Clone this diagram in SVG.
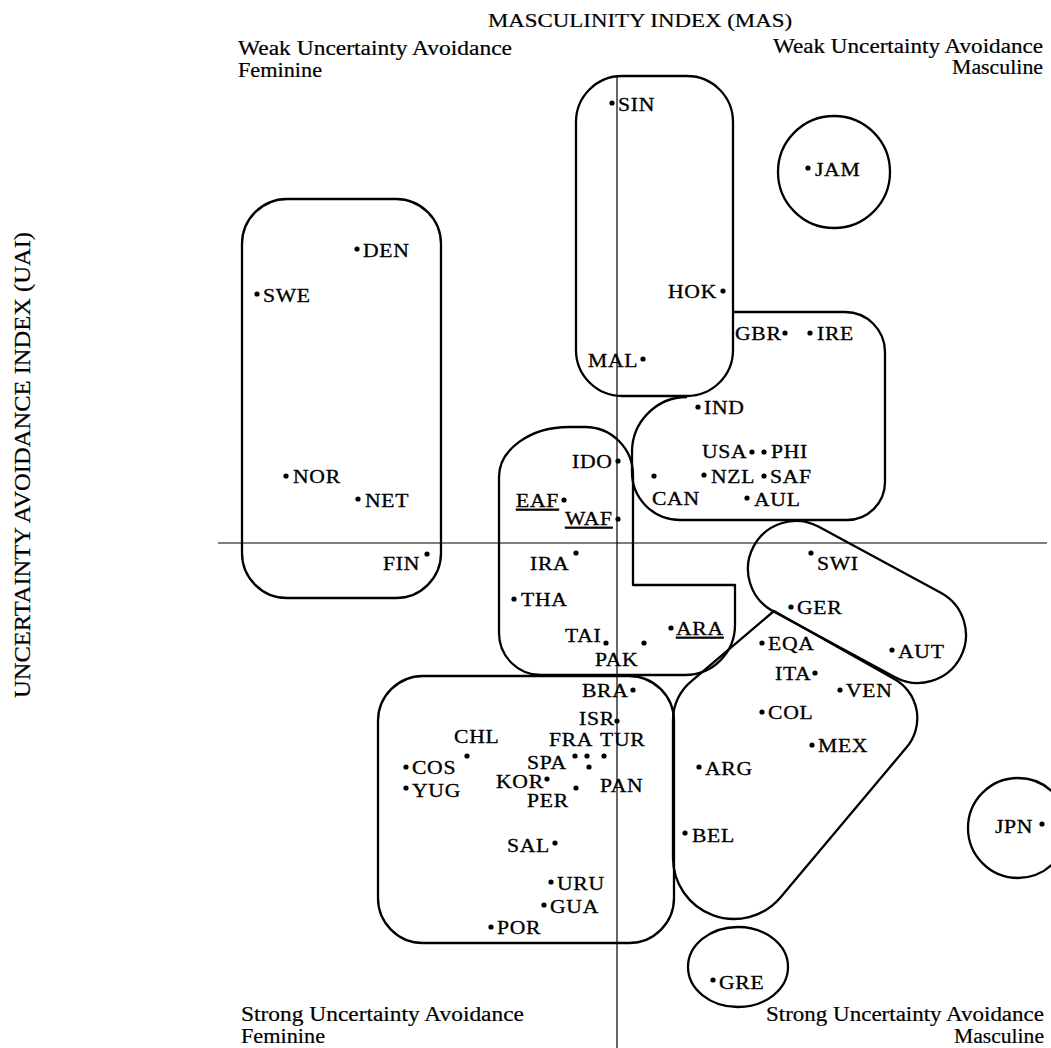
<svg xmlns="http://www.w3.org/2000/svg" width="1051" height="1048" viewBox="0 0 1051 1048">
<style>
.box{fill:none;stroke:#000;stroke-width:2.3;stroke-linejoin:round}
.axis{stroke:#000;stroke-width:1.2;fill:none}
.dot{fill:#000}
.lbl{font-family:"Liberation Serif","Times New Roman",serif;font-size:18.5px;letter-spacing:0.6px;fill:#000;stroke:#000;stroke-width:0.3;transform-box:fill-box;transform-origin:0 0;transform:scaleX(1.17)}
.cap{font-family:"Liberation Serif","Times New Roman",serif;font-size:20px;fill:#000;stroke:#000;stroke-width:0.2}
.ul{text-decoration:underline}
</style>
<rect x="0" y="0" width="1051" height="1048" fill="#fff"/>
<g id="titles">
<text class="cap" x="488" y="27" textLength="304" lengthAdjust="spacingAndGlyphs" style="font-size:19.5px">MASCULINITY INDEX (MAS)</text>
<text class="cap" transform="translate(29.5,698) rotate(-90)" textLength="466" lengthAdjust="spacingAndGlyphs" style="font-size:23px">UNCERTAINTY AVOIDANCE INDEX (UAI)</text>
<text class="cap" x="238" y="55" textLength="274" lengthAdjust="spacingAndGlyphs">Weak Uncertainty Avoidance</text>
<text class="cap" x="238" y="77" textLength="84" lengthAdjust="spacingAndGlyphs">Feminine</text>
<text class="cap" x="773" y="53" textLength="270" lengthAdjust="spacingAndGlyphs">Weak Uncertainty Avoidance</text>
<text class="cap" x="952" y="74" textLength="91" lengthAdjust="spacingAndGlyphs">Masculine</text>
<text class="cap" x="241" y="1021" textLength="283" lengthAdjust="spacingAndGlyphs">Strong Uncertainty Avoidance</text>
<text class="cap" x="241" y="1043" textLength="84" lengthAdjust="spacingAndGlyphs">Feminine</text>
<text class="cap" x="766" y="1021" textLength="278" lengthAdjust="spacingAndGlyphs">Strong Uncertainty Avoidance</text>
<text class="cap" x="954" y="1043" textLength="90" lengthAdjust="spacingAndGlyphs">Masculine</text>
</g>
<g id="connectors">
<line class="axis" x1="218" y1="543" x2="1047" y2="543"/>
<line class="axis" x1="617" y1="76" x2="617" y2="1048"/>
</g>
<g id="cluster-nordic">
<rect class="box" x="242" y="199" width="199" height="399" rx="45"/>
</g>
<g id="cluster-sin">
<rect class="box" x="576" y="76" width="157" height="320" rx="46"/>
</g>
<g id="cluster-jam">
<circle class="box" cx="834" cy="172" r="56"/>
</g>
<g id="cluster-anglo">
<path class="box" d="M733 312 H845 A40 40 0 0 1 885 352 V482 A38 38 0 0 1 847 520 H680 A48 48 0 0 1 632 472 V452 A55 55 0 0 1 687 397"/>
</g>
<g id="cluster-mid">
<path class="box" d="M499 477 A70 50 0 0 1 569 427 H585 A48 48 0 0 1 633 475 V585 H735 V625 A50 50 0 0 1 685 675 H541 A42 42 0 0 1 499 633 Z"/>
</g>
<g id="cluster-latin1">
<rect class="box" x="378" y="676" width="296" height="267" rx="45"/>
</g>
<g id="cluster-germanic">
<rect class="box" x="739.6" y="554" width="234.7" height="96" rx="48" transform="rotate(28.4 857 602)"/>
</g>
<g id="cluster-latin2">
<path class="box" d="M774 611 L893.4 678.4 A45 45 0 0 1 906 748 L780 898 A61 61 0 0 1 673 858 V720 A50 50 0 0 1 691.8 680.9 Z"/>
</g>
<g id="cluster-jpn">
<circle class="box" cx="1018" cy="828" r="50"/>
</g>
<g id="cluster-gre">
<ellipse class="box" cx="738" cy="967" rx="50" ry="40"/>
</g>
<g id="countries">
<g id="DEN"><circle class="dot" cx="357" cy="249" r="2.6"/><text class="lbl" x="363" y="257">DEN</text></g>
<g id="SWE"><circle class="dot" cx="257" cy="294" r="2.6"/><text class="lbl" x="263" y="302">SWE</text></g>
<g id="NOR"><circle class="dot" cx="286" cy="476" r="2.6"/><text class="lbl" x="293" y="483">NOR</text></g>
<g id="NET"><circle class="dot" cx="358" cy="499" r="2.6"/><text class="lbl" x="365" y="507">NET</text></g>
<g id="FIN"><circle class="dot" cx="427" cy="554" r="2.6"/><text class="lbl" x="383" y="570">FIN</text></g>
<g id="SIN"><circle class="dot" cx="612" cy="103" r="2.6"/><text class="lbl" x="618" y="111">SIN</text></g>
<g id="JAM"><circle class="dot" cx="808" cy="168" r="2.6"/><text class="lbl" x="815" y="176">JAM</text></g>
<g id="HOK"><circle class="dot" cx="723" cy="291" r="2.6"/><text class="lbl" x="668" y="298">HOK</text></g>
<g id="GBR"><circle class="dot" cx="785" cy="333" r="2.6"/><text class="lbl" x="735" y="340">GBR</text></g>
<g id="IRE"><circle class="dot" cx="810" cy="333" r="2.6"/><text class="lbl" x="817" y="340">IRE</text></g>
<g id="MAL"><circle class="dot" cx="643" cy="359" r="2.6"/><text class="lbl" x="588" y="367">MAL</text></g>
<g id="IND"><circle class="dot" cx="698" cy="407" r="2.6"/><text class="lbl" x="704" y="414">IND</text></g>
<g id="USA"><circle class="dot" cx="752" cy="452" r="2.6"/><text class="lbl" x="702" y="458">USA</text></g>
<g id="PHI"><circle class="dot" cx="764" cy="452" r="2.6"/><text class="lbl" x="771" y="458">PHI</text></g>
<g id="CAN"><circle class="dot" cx="654" cy="476" r="2.6"/><text class="lbl" x="652" y="505">CAN</text></g>
<g id="NZL"><circle class="dot" cx="704" cy="475" r="2.6"/><text class="lbl" x="711" y="483">NZL</text></g>
<g id="SAF"><circle class="dot" cx="764" cy="476" r="2.6"/><text class="lbl" x="770" y="483">SAF</text></g>
<g id="AUL"><circle class="dot" cx="747" cy="498" r="2.6"/><text class="lbl" x="754" y="506">AUL</text></g>
<g id="IDO"><circle class="dot" cx="618" cy="461" r="2.6"/><text class="lbl" x="572" y="468">IDO</text></g>
<g id="EAF"><circle class="dot" cx="564" cy="500" r="2.6"/><text class="lbl ul" x="516" y="507">EAF</text></g>
<g id="WAF"><circle class="dot" cx="618" cy="519" r="2.6"/><text class="lbl ul" x="565" y="525">WAF</text></g>
<g id="IRA"><circle class="dot" cx="576" cy="553" r="2.6"/><text class="lbl" x="530" y="570">IRA</text></g>
<g id="THA"><circle class="dot" cx="514" cy="599" r="2.6"/><text class="lbl" x="521" y="606">THA</text></g>
<g id="TAI"><circle class="dot" cx="606" cy="643" r="2.6"/><text class="lbl" x="565" y="642">TAI</text></g>
<g id="PAK"><circle class="dot" cx="644" cy="643" r="2.6"/><text class="lbl" x="595" y="666">PAK</text></g>
<g id="ARA"><circle class="dot" cx="671" cy="628" r="2.6"/><text class="lbl ul" x="676" y="635">ARA</text></g>
<g id="SWI"><circle class="dot" cx="811" cy="553" r="2.6"/><text class="lbl" x="817" y="570">SWI</text></g>
<g id="GER"><circle class="dot" cx="791" cy="607" r="2.6"/><text class="lbl" x="797" y="614">GER</text></g>
<g id="EQA"><circle class="dot" cx="762" cy="643" r="2.6"/><text class="lbl" x="768" y="650">EQA</text></g>
<g id="AUT"><circle class="dot" cx="892" cy="650" r="2.6"/><text class="lbl" x="898" y="658">AUT</text></g>
<g id="ITA"><circle class="dot" cx="815" cy="673" r="2.6"/><text class="lbl" x="775" y="680">ITA</text></g>
<g id="VEN"><circle class="dot" cx="840" cy="690" r="2.6"/><text class="lbl" x="846" y="697">VEN</text></g>
<g id="COL"><circle class="dot" cx="762" cy="712" r="2.6"/><text class="lbl" x="768" y="719">COL</text></g>
<g id="MEX"><circle class="dot" cx="812" cy="745" r="2.6"/><text class="lbl" x="818" y="752">MEX</text></g>
<g id="ARG"><circle class="dot" cx="699" cy="767" r="2.6"/><text class="lbl" x="705" y="775">ARG</text></g>
<g id="BEL"><circle class="dot" cx="685" cy="833" r="2.6"/><text class="lbl" x="692" y="842">BEL</text></g>
<g id="JPN"><circle class="dot" cx="1042" cy="824" r="2.6"/><text class="lbl" x="995" y="833">JPN</text></g>
<g id="BRA"><circle class="dot" cx="633" cy="690" r="2.6"/><text class="lbl" x="582" y="697">BRA</text></g>
<g id="ISR"><circle class="dot" cx="617" cy="721" r="2.6"/><text class="lbl" x="579" y="725">ISR</text></g>
<g id="CHL"><circle class="dot" cx="467" cy="756" r="2.6"/><text class="lbl" x="454" y="743">CHL</text></g>
<g id="FRA"><circle class="dot" cx="587" cy="756" r="2.6"/><text class="lbl" x="549" y="746">FRA</text></g>
<g id="TUR"><circle class="dot" cx="604" cy="756" r="2.6"/><text class="lbl" x="600" y="746">TUR</text></g>
<g id="SPA"><circle class="dot" cx="575" cy="756" r="2.6"/><text class="lbl" x="527" y="769">SPA</text></g>
<g id="PAN"><circle class="dot" cx="589" cy="767" r="2.6"/><text class="lbl" x="600" y="792">PAN</text></g>
<g id="COS"><circle class="dot" cx="406" cy="767" r="2.6"/><text class="lbl" x="412" y="774">COS</text></g>
<g id="YUG"><circle class="dot" cx="406" cy="788" r="2.6"/><text class="lbl" x="412" y="797">YUG</text></g>
<g id="KOR"><circle class="dot" cx="547" cy="779" r="2.6"/><text class="lbl" x="496" y="788">KOR</text></g>
<g id="PER"><circle class="dot" cx="576" cy="788" r="2.6"/><text class="lbl" x="527" y="807">PER</text></g>
<g id="SAL"><circle class="dot" cx="555" cy="843" r="2.6"/><text class="lbl" x="507" y="852">SAL</text></g>
<g id="URU"><circle class="dot" cx="551" cy="882" r="2.6"/><text class="lbl" x="557" y="890">URU</text></g>
<g id="GUA"><circle class="dot" cx="544" cy="905" r="2.6"/><text class="lbl" x="550" y="913">GUA</text></g>
<g id="POR"><circle class="dot" cx="491" cy="927" r="2.6"/><text class="lbl" x="497" y="934">POR</text></g>
<g id="GRE"><circle class="dot" cx="713" cy="980" r="2.6"/><text class="lbl" x="719" y="989">GRE</text></g>
</g>
</svg>
